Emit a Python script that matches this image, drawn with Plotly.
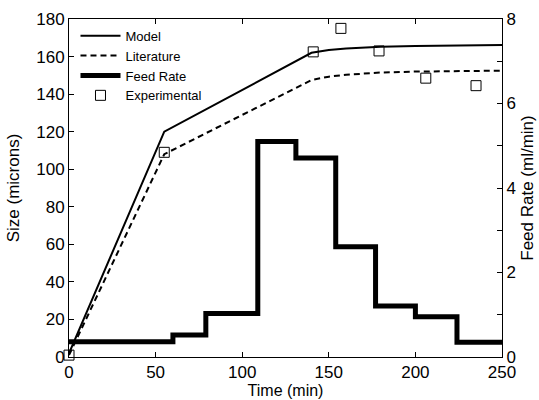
import plotly.graph_objects as go

# Model / literature curves (time in min, size in microns)
t_curve = [0, 55, 140, 150, 160, 170, 180, 200, 225, 250]
model = [2, 120, 162, 163.5, 164.3, 164.8, 165.2, 165.6, 165.9, 166.1]
literature = [1, 108, 147.5, 149.3, 150.3, 151, 151.5, 152, 152.3, 152.5]

# Feed rate steps (ml/min)
t_feed = [0, 60, 79, 109, 131, 154, 177, 200, 224, 250]
feed = [0.36, 0.52, 1.03, 5.1, 4.71, 2.61, 1.21, 0.95, 0.35, 0.35]

# Experimental points
t_exp = [0, 55, 141, 157, 179, 206, 235]
size_exp = [1, 109, 162.5, 175, 163, 148.5, 144.5]

FONT = "Liberation Sans, Arial, Helvetica, sans-serif"

fig = go.Figure()
fig.add_trace(go.Scatter(x=t_curve, y=model, mode="lines", name="Model",
                         line=dict(color="black", width=2)))
fig.add_trace(go.Scatter(x=t_curve, y=literature, mode="lines", name="Literature",
                         line=dict(color="black", width=2, dash="6px,4px")))
fig.add_trace(go.Scatter(x=t_feed, y=feed, mode="lines", name="Feed Rate",
                         line=dict(color="black", width=5, shape="hv"), yaxis="y2"))
fig.add_trace(go.Scatter(x=t_exp, y=size_exp, mode="markers", name="Experimental",
                         marker=dict(symbol="square-open", size=10, color="black",
                                     line=dict(width=1, color="black")),
                         cliponaxis=False))

fig.update_layout(
    width=539, height=400,
    margin=dict(l=69, r=37, t=19, b=43),
    paper_bgcolor="white", plot_bgcolor="white",
    font=dict(family=FONT, size=17, color="black"),
    showlegend=True,
    legend=dict(x=0.015, y=0.995, xanchor="left", yanchor="top",
                bgcolor="rgba(0,0,0,0)", font=dict(size=13, family=FONT),
                itemwidth=40, tracegroupgap=0),
    xaxis=dict(range=[0, 250], tickvals=[0, 50, 100, 150, 200, 250],
               showgrid=False, zeroline=False, showline=True, linecolor="black",
               linewidth=1, mirror="ticks", ticks="inside", ticklen=5,
               tickcolor="black", automargin=False,
               title=dict(text="Time (min)", font=dict(size=16), standoff=0)),
    yaxis=dict(range=[0, 180], tickvals=list(range(0, 181, 20)),
               showgrid=False, zeroline=False, showline=True, linecolor="black",
               linewidth=1, ticks="inside", ticklen=5, tickcolor="black",
               automargin=False,
               title=dict(text="Size (microns)", font=dict(size=17), standoff=12)),
    yaxis2=dict(range=[0, 8], overlaying="y", side="right",
                tickvals=list(range(0, 9)),
                ticktext=["0", "", "2", "", "4", "", "6", "", "8"],
                showgrid=False, zeroline=False, showline=True, linecolor="black",
                linewidth=1, ticks="inside", ticklen=5, tickcolor="black",
                automargin=False,
                title=dict(text="Feed Rate (ml/min)", font=dict(size=17), standoff=6)),
)

fig.write_html("out.html")
